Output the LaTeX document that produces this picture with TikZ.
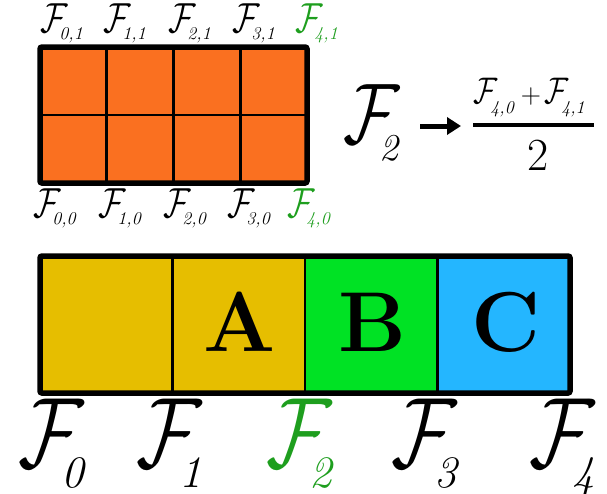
\documentclass[tikz,border=0pt]{standalone}
\usetikzlibrary{arrows.meta}
\definecolor{cellorange}{RGB}{250,112,32}
\definecolor{cellyellow}{RGB}{230,190,0}
\definecolor{cellgreen}{RGB}{0,226,36}
\definecolor{cellblue}{RGB}{36,182,255}
\definecolor{labgreen}{RGB}{30,158,30}
\DeclareFontFamily{OMS}{mycmsy}{}
\DeclareFontShape{OMS}{mycmsy}{m}{n}{<-> cmsy10}{}
\newcommand{\scrF}[1]{\scalebox{0.8}[1]{\fontsize{#1}{#1}\usefont{OMS}{mycmsy}{m}{n}F}}
\newcommand{\subtxt}[1]{\itshape #1}
\newcommand{\Flab}[5]{\scrF{#1}\kern#4\raisebox{-#3}{\fontsize{#2}{#2}\selectfont\subtxt{#5}}}
\newcommand{\SmallF}[1]{\Flab{42pt}{18pt}{7pt}{-5pt}{#1}}
\newcommand{\BigF}[1]{\Flab{100pt}{45pt}{20pt}{-14pt}{#1}}
\begin{document}
\begin{tikzpicture}[x=1pt,y=-1pt,
  lab/.style={inner sep=0pt, anchor=base west},
  cellline/.style={line width=2.8pt},
  frame/.style={line width=5.5pt, rounded corners=2pt},
  bigletter/.style={inner sep=0pt, font=\fontsize{85pt}{85pt}\selectfont\bfseries},
  arrowstyle/.style={line width=5pt, -{Triangle[length=14pt,width=17pt]}}]
\useasboundingbox (0,0) rectangle (607,493);
% top grid
\fill[cellorange] (40,47) rectangle (307,183);
\foreach \x in {106.75,173.5,240.25} \draw[cellline] (\x,47) -- (\x,183);
\draw[cellline] (40,115) -- (307,115);
\draw[frame] (40,47) rectangle (307,183);
% top labels
\node[lab] (f01) at (40,32) {\SmallF{0,1}};
\node[lab] (f11) at (103,32) {\SmallF{1,1}};
\node[lab] (f21) at (168,32) {\SmallF{2,1}};
\node[lab] (f31) at (232,32) {\SmallF{3,1}};
\node[lab, text=labgreen] (f41) at (295,32) {\SmallF{4,1}};
% bottom labels of grid
\node[lab] (f00) at (33,217) {\SmallF{0,0}};
\node[lab] (f10) at (98,217) {\SmallF{1,0}};
\node[lab] (f20) at (163,217) {\SmallF{2,0}};
\node[lab] (f30) at (227,217) {\SmallF{3,0}};
\node[lab, text=labgreen] (f40) at (287,217) {\SmallF{4,0}};
% formula
\node[lab] (f2r) at (343,143) {\Flab{86pt}{38pt}{17pt}{-13pt}{2}};
\coordinate (arrS) at (420,126);
\coordinate (arrE) at (461,126);
\draw[arrowstyle] (arrS) -- (arrE);
\node[lab] (num) at (473,103) {\Flab{37pt}{18pt}{10pt}{-4pt}{4,0}\hspace{7pt}{\fontsize{28pt}{28pt}\selectfont +}\hspace{3pt}\Flab{37pt}{18pt}{10pt}{-4pt}{4,1}};
\draw[line width=3.5pt] (473,125) -- (594,125);
\node[lab] (den) at (527,170) {\fontsize{46pt}{46pt}\selectfont 2};
% bottom bar
\fill[cellyellow] (40,256) rectangle (305,393);
\fill[cellgreen] (305,256) rectangle (437.5,393);
\fill[cellblue] (437.5,256) rectangle (570,393);
\foreach \x in {172.5,305,437.5} \draw[cellline] (\x,256) -- (\x,393);
\draw[frame] (40,256) rectangle (570,393);
\node[bigletter] (A) at (240,322) {A};
\node[bigletter] (B) at (372,322) {B};
\node[bigletter] (C) at (506,322) {C};
% big labels
\node[lab] (F0) at (18,467) {\BigF{0}};
\node[lab] (F1) at (136,467) {\BigF{1}};
\node[lab, text=labgreen] (F2) at (266,467) {\BigF{2}};
\node[lab] (F3) at (391,467) {\BigF{3}};
\node[lab] (F4) at (529,467) {\BigF{4}};
\end{tikzpicture}
\end{document}
